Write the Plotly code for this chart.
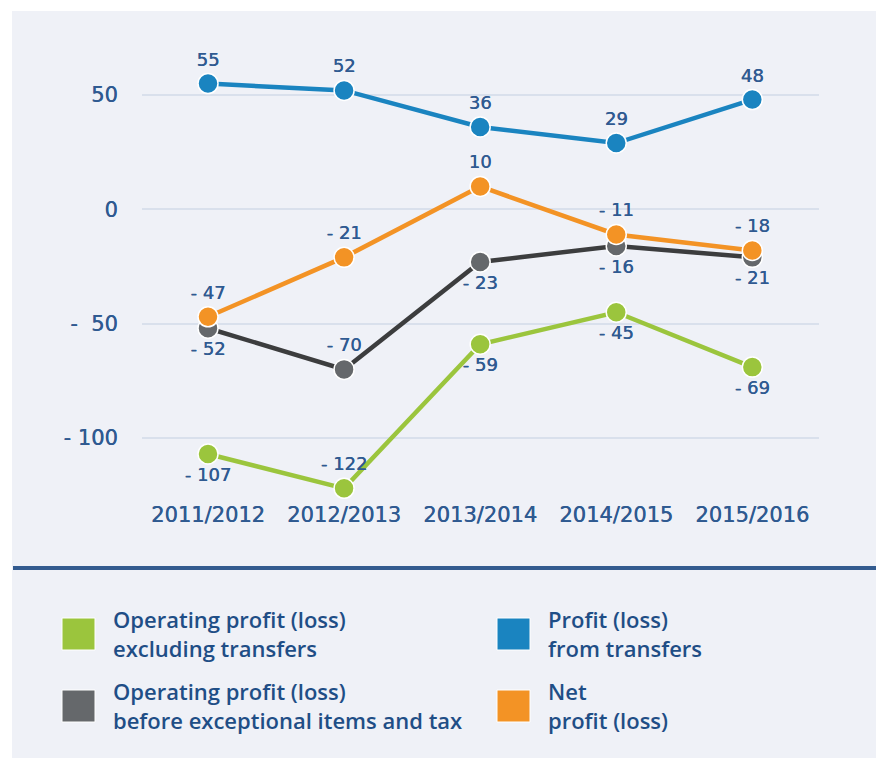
import plotly.graph_objects as go

# Financial years on the x axis
seasons = ["2011/2012", "2012/2013", "2013/2014", "2014/2015", "2015/2016"]

# Results per year (millions)
operating_excl_transfers = [-107, -122, -59, -45, -69]
operating_before_items = [-52, -70, -23, -16, -21]
net_profit = [-47, -21, 10, -11, -18]
transfer_profit = [55, 52, 36, 29, 48]

# Y axis ticks
y_tickvals = [50, 0, -50, -100]
y_ticktext = ["50", "0", "-  50", "- 100"]

# Label placement per point (above / below the marker)
pos_green = ["bottom center", "top center", "bottom center", "bottom center", "bottom center"]
pos_gray = ["bottom center", "top center", "bottom center", "bottom center", "bottom center"]
pos_orange = ["top center"] * 5
pos_blue = ["top center"] * 5

GREEN = "#9bc53d"
GRAY_MARK = "#65686b"
GRAY_LINE = "#3c3d3e"
ORANGE = "#f39325"
BLUE = "#1a84c0"
TEXT = "#2f5a91"
PANEL = "#eff1f7"
GRID = "#d9e0ec"
NUM_FONT = "DejaVu Sans"
SHADOW = "0.4px 0px 0px " + TEXT

W, H = 876, 758
L, R, T, B = 142, 819, 40, 490  # plot area in pixels


def fmt(v):
    return f"- {abs(v)}" if v < 0 else f"{v}"


def px(xp):
    return (xp - L) / (R - L)


def py(yp):
    return (B - yp) / (B - T)


fig = go.Figure()


def add_series(values, line_color, marker_color, positions):
    fig.add_trace(go.Scatter(
        x=list(range(len(seasons))),
        y=values,
        mode="lines+markers+text",
        line=dict(color=line_color, width=4.5),
        marker=dict(size=20, color=marker_color, line=dict(color="white", width=1.5)),
        text=[fmt(v) for v in values],
        textposition=positions,
        textfont=dict(family=NUM_FONT, size=18, color=TEXT, shadow=SHADOW),
        showlegend=False,
        cliponaxis=False,
        hoverinfo="skip",
    ))


add_series(operating_excl_transfers, GREEN, GREEN, pos_green)
add_series(operating_before_items, GRAY_LINE, GRAY_MARK, pos_gray)
add_series(net_profit, ORANGE, ORANGE, pos_orange)
add_series(transfer_profit, BLUE, BLUE, pos_blue)

shapes = [
    # background panel
    dict(type="rect", xref="paper", yref="paper", x0=px(12), x1=px(876), y0=py(758), y1=py(11),
         fillcolor=PANEL, line=dict(width=0), layer="below"),
    # separator between chart and key
    dict(type="rect", xref="paper", yref="paper", x0=px(13), x1=px(876), y0=py(570), y1=py(566),
         fillcolor="#335b8f", line=dict(width=0), layer="above"),
]

annotations = []
legend_items = [
    (62, 618, GREEN, "Operating profit (loss)<br>excluding transfers"),
    (62, 690, GRAY_MARK, "Operating profit (loss)<br>before exceptional items and tax"),
    (497, 618, BLUE, "Profit (loss)<br>from transfers"),
    (497, 690, ORANGE, "Net<br>profit (loss)"),
]
for x0, y0, color, label in legend_items:
    shapes.append(dict(type="rect", xref="paper", yref="paper",
                       x0=px(x0), x1=px(x0 + 33), y0=py(y0 + 32), y1=py(y0),
                       fillcolor=color, line=dict(color="white", width=1)))
    annotations.append(dict(
        xref="paper", yref="paper", x=px(x0 + 49), y=py(y0 + 15),
        xanchor="left", yanchor="middle", align="left", showarrow=False, text=label,
        font=dict(family="Open Sans", size=22, color="#1f4e86", weight=600),
    ))

# 50 sits at 95 px and -100 at 438 px
y_top = 50 + (95 - T) / ((438 - 95) / 150)
y_bot = 50 - (B - 95) / ((438 - 95) / 150)

fig.update_layout(
    width=W, height=H,
    margin=dict(l=L, r=W - R, t=T, b=H - B),
    paper_bgcolor="white",
    plot_bgcolor="rgba(0,0,0,0)",
    shapes=shapes,
    annotations=annotations,
    xaxis=dict(
        range=[-0.485, 4.49],
        tickvals=list(range(len(seasons))),
        ticktext=seasons,
        showgrid=False, zeroline=False, showline=False,
        ticks="outside", ticklen=6, tickcolor="rgba(0,0,0,0)",
        tickfont=dict(family=NUM_FONT, size=21, color=TEXT, shadow=SHADOW),
    ),
    yaxis=dict(
        range=[y_bot, y_top],
        tickvals=y_tickvals,
        ticktext=y_ticktext,
        showgrid=True, gridcolor=GRID, gridwidth=1.5,
        zeroline=False, showline=False,
        ticks="outside", ticklen=19, tickcolor="rgba(0,0,0,0)",
        tickfont=dict(family=NUM_FONT, size=21, color=TEXT, shadow=SHADOW),
    ),
)

fig.write_html("out.html")
